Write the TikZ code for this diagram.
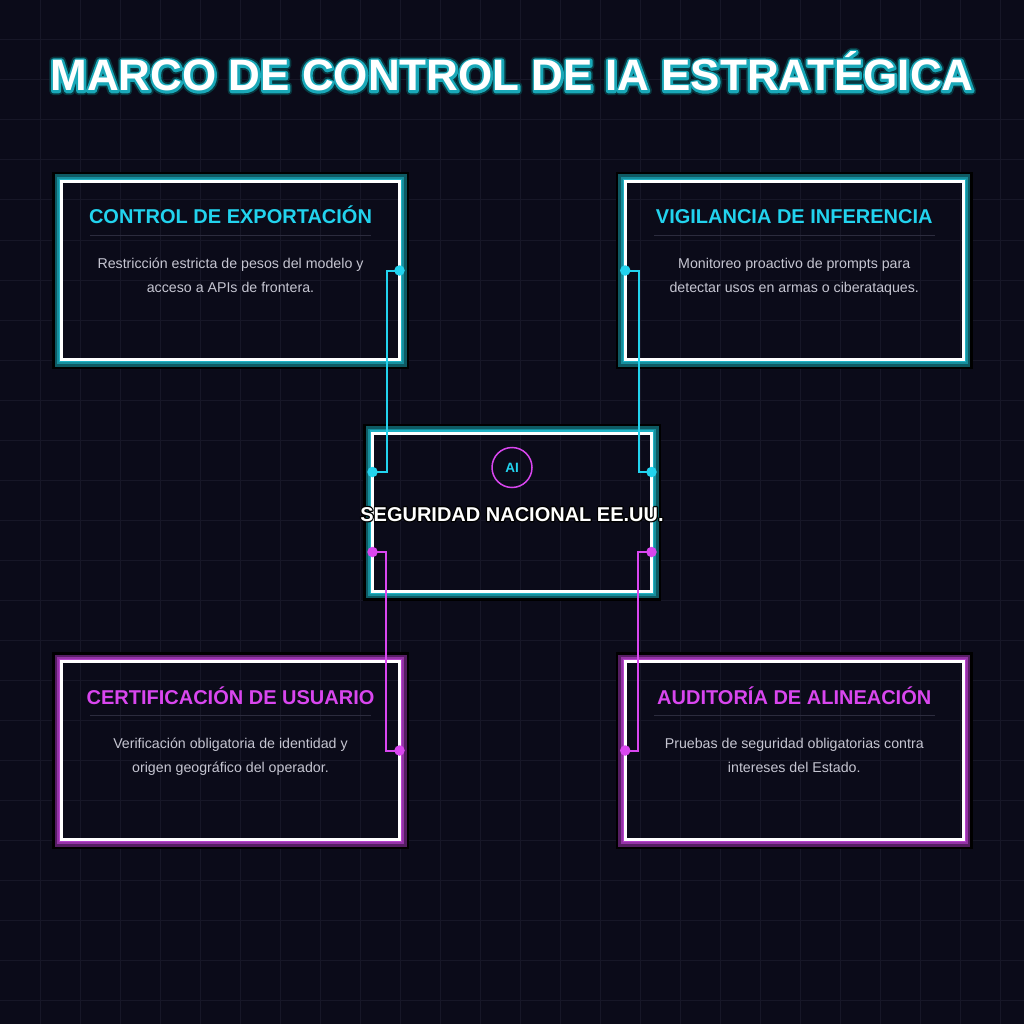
\documentclass[tikz,border=0pt]{standalone}
\usepackage{fontspec}
\setmainfont{Liberation Sans}
\usetikzlibrary{calc}
\definecolor{bg}{HTML}{0B0B19}
\definecolor{gridc}{HTML}{171727}
\definecolor{cy}{HTML}{22D3EE}
\definecolor{mg}{HTML}{D946EF}
\definecolor{cyL}{HTML}{1FB2C4}
\definecolor{cyM}{HTML}{168E9C}
\definecolor{cyD}{HTML}{0E5A63}
\definecolor{mgL}{HTML}{B742CC}
\definecolor{mgM}{HTML}{9433A6}
\definecolor{mgD}{HTML}{561E63}
\definecolor{bodyc}{HTML}{C6C6D2}
\definecolor{sepc}{HTML}{2C2C3E}
% stroked text: width, "r g b", text
\newcommand\strk[3]{\special{pdf:literal direct 1 Tr #1 w 1 j #2 RG}#3\special{pdf:literal direct 0 Tr}}
\tikzset{
 panel/.style={rectangle, outer sep=0pt, inner sep=0pt},
 ttl/.style={font=\bfseries\fontsize{20}{24}\selectfont, anchor=base, inner sep=0pt},
 bodytxt/.style={font=\fontsize{14.2}{17}\selectfont, text=bodyc, anchor=base, inner sep=0pt},
 maintitle/.style={font=\bfseries\fontsize{44}{52}\selectfont, anchor=base, inner sep=0pt},
 dotn/.style={circle, fill=#1, minimum size=10.5pt, inner sep=0pt},
 link/.style={draw=#1, line width=2pt},
 sepline/.style={draw=sepc, line width=1pt},
}
\newcommand\glowframe[2]{%
 \foreach \o/\c/\w in {7.5/black/4,5.5/#2D/3,3.5/#2M/2,2/#2L/1.5}
  \draw[draw=\c, line width=\w pt] ($(#1.north west)+(-\o,-\o)$) rectangle ($(#1.south east)+(\o,\o)$);
 \draw[white, line width=3pt] (#1.north west) rectangle (#1.south east);}
\newcommand\cardtext[6]{% node, color, title, line1, line2, prefix
 \node[ttl, text=#2] (#6T) at ($(#1.north)+(0,42.5)$) {#3};
 \draw[sepline] ($(#1.north west)+(28.5,53.5)$) -- ($(#1.north east)+(-28.5,53.5)$);
 \node[bodytxt] (#6A) at ($(#1.north)+(0,86.5)$) {#4};
 \node[bodytxt] (#6B) at ($(#1.north)+(0,111)$) {#5};}
\newcommand\maintext{MARCO DE CONTROL DE IA ESTRATÉGICA}
\newcommand\centertext{SEGURIDAD NACIONAL EE.UU.}
\begin{document}
\begin{tikzpicture}[x=1pt,y=-1pt]
\fill[bg] (0,0) rectangle (1024,1024);
\useasboundingbox (0,0) rectangle (1024,1024);
\foreach \i in {40,80,...,1000} {
 \draw[gridc, line width=1pt] (\i,0) -- (\i,1024);
 \draw[gridc, line width=1pt] (0,\i) -- (1024,\i);
}
% main title
\node[maintitle, text=white] (title) at (512,91)
 {\rlap{\strk{8}{0.03 0.22 0.25}{\maintext}}\rlap{\strk{4.5}{0.1 0.66 0.72}{\maintext}}\maintext};

% panels
\node[panel, minimum width=338pt, minimum height=178pt] (tl) at (230.5,270.5) {};
\node[panel, minimum width=338pt, minimum height=178pt] (tr) at (794.25,270.5) {};
\node[panel, minimum width=338pt, minimum height=178pt] (bl) at (230.5,750.5) {};
\node[panel, minimum width=338pt, minimum height=178pt] (br) at (794.25,750.5) {};
\node[panel, minimum width=279pt, minimum height=158pt] (cb) at (512,512) {};
\glowframe{tl}{cy}
\glowframe{tr}{cy}
\glowframe{bl}{mg}
\glowframe{br}{mg}
\glowframe{cb}{cy}

\cardtext{tl}{cy}{CONTROL DE EXPORTACIÓN}{Restricción estricta de pesos del modelo y}{acceso a APIs de frontera.}{tl}
\cardtext{tr}{cy}{VIGILANCIA DE INFERENCIA}{Monitoreo proactivo de prompts para}{detectar usos en armas o ciberataques.}{tr}
\cardtext{bl}{mg}{CERTIFICACIÓN DE USUARIO}{Verificación obligatoria de identidad y}{origen geográfico del operador.}{bl}
\cardtext{br}{mg}{AUDITORÍA DE ALINEACIÓN}{Pruebas de seguridad obligatorias contra}{intereses del Estado.}{br}

% center content
\node[circle, draw=mg, line width=1.5pt, minimum size=40pt, inner sep=0pt, text=cy,
      font=\bfseries\fontsize{13.5}{16}\selectfont] (ai) at ($(cb.north)+(0,34.5)$) {AI};
\node[ttl, text=white] (ctitle) at ($(cb.north)+(0,88)$)
 {\rlap{\strk{2.5}{0 0 0}{\centertext}}\centertext};

% connector endpoints
\coordinate (dtl) at (tl.east);
\coordinate (dtr) at (tr.west);
\coordinate (dbl) at (bl.east);
\coordinate (dbr) at (br.west);
\coordinate (ctl) at ($(cb.west)+(0,-40)$);
\coordinate (cbl) at ($(cb.west)+(0,40)$);
\coordinate (ctr) at ($(cb.east)+(0,-40)$);
\coordinate (cbr) at ($(cb.east)+(0,40)$);

\draw[link=cy] (dtl) -- ++(-13,0) |- (ctl);
\draw[link=cy] (dtr) -- ++(14,0) |- (ctr);
\draw[link=mg] (dbl) -- ++(-14,0) |- (cbl);
\draw[link=mg] (dbr) -- ++(13,0) |- (cbr);

\node[dotn=cy] (ndtl) at (dtl) {};
\node[dotn=cy] (ndtr) at (dtr) {};
\node[dotn=cy] (nctl) at (ctl) {};
\node[dotn=cy] (nctr) at (ctr) {};
\node[dotn=mg] (ndbl) at (dbl) {};
\node[dotn=mg] (ndbr) at (dbr) {};
\node[dotn=mg] (ncbl) at (cbl) {};
\node[dotn=mg] (ncbr) at (cbr) {};
\end{tikzpicture}
\end{document}
